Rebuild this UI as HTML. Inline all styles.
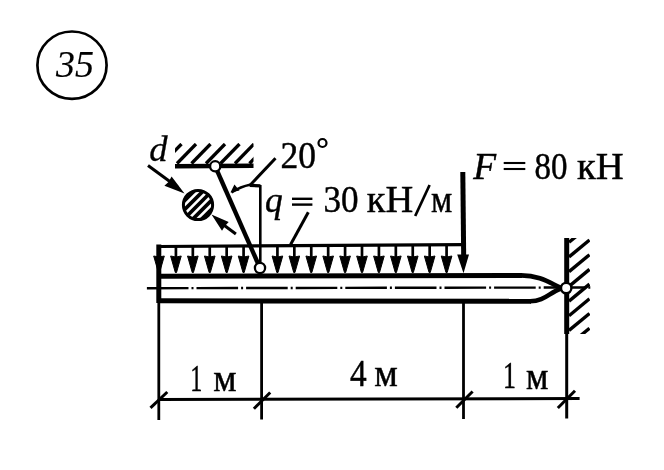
<!DOCTYPE html>
<html><head><meta charset="utf-8"><style>
html,body{margin:0;padding:0;background:#fff;width:664px;height:470px;overflow:hidden}
svg{display:block;will-change:transform}
text{font-family:"Liberation Serif",serif;fill:#000;stroke:#000;stroke-width:0.45px}
</style></head><body>
<svg width="664" height="470" viewBox="0 0 664 470">
<rect width="664" height="470" fill="#fff"/>
<defs>
<clipPath id="cc"><rect x="175" y="143" width="78.5" height="24"/></clipPath>
<clipPath id="cw"><rect x="568" y="238" width="22" height="96"/></clipPath>
<clipPath id="cs"><circle cx="198" cy="205" r="14.5"/></clipPath>
</defs>
<ellipse cx="72" cy="65.2" rx="34.6" ry="33.7" fill="none" stroke="#000" stroke-width="2.7"/>
<g stroke="#000" fill="#000">
<g clip-path="url(#cc)"><line x1="162.50" y1="163.50" x2="181.50" y2="144.00" stroke-width="3.3" />
<line x1="177.00" y1="163.50" x2="196.00" y2="144.00" stroke-width="3.3" />
<line x1="191.50" y1="163.50" x2="210.50" y2="144.00" stroke-width="3.3" />
<line x1="206.00" y1="163.50" x2="225.00" y2="144.00" stroke-width="3.3" />
<line x1="220.50" y1="163.50" x2="239.50" y2="144.00" stroke-width="3.3" />
<line x1="235.00" y1="163.50" x2="254.00" y2="144.00" stroke-width="3.3" />
<line x1="249.50" y1="163.50" x2="268.50" y2="144.00" stroke-width="3.3" /></g>
<line x1="175.00" y1="166.20" x2="253.50" y2="165.80" stroke-width="4.6" />
<line x1="215.20" y1="166.30" x2="260.00" y2="268.00" stroke-width="4.4" />
<line x1="260.30" y1="185.00" x2="260.30" y2="268.00" stroke-width="2.6" />
<line x1="275.50" y1="158.30" x2="249.80" y2="185.50" stroke-width="3" />
<line x1="249.80" y1="185.50" x2="260.30" y2="186.00" stroke-width="3" />
<line x1="148.00" y1="165.50" x2="178.00" y2="187.50" stroke-width="3" />
<path d="M184.5 193.5 L164.4 185.7 L168.5 182 L171.6 176.6 Z" stroke="none"/>
<line x1="235.90" y1="234.00" x2="219.00" y2="221.50" stroke-width="3" />
<path d="M211.5 214.4 L228.7 222 L225 226 L222 230.7 Z" stroke="none"/>
<g clip-path="url(#cs)"><line x1="155.73" y1="202.73" x2="195.73" y2="162.73" stroke-width="3.7" />
<line x1="160.18" y1="207.18" x2="200.18" y2="167.18" stroke-width="3.7" />
<line x1="164.64" y1="211.64" x2="204.64" y2="171.64" stroke-width="3.7" />
<line x1="169.09" y1="216.09" x2="209.09" y2="176.09" stroke-width="3.7" />
<line x1="173.55" y1="220.55" x2="213.55" y2="180.55" stroke-width="3.7" />
<line x1="178.00" y1="225.00" x2="218.00" y2="185.00" stroke-width="3.7" />
<line x1="182.45" y1="229.45" x2="222.45" y2="189.45" stroke-width="3.7" />
<line x1="186.91" y1="233.91" x2="226.91" y2="193.91" stroke-width="3.7" />
<line x1="191.36" y1="238.36" x2="231.36" y2="198.36" stroke-width="3.7" />
<line x1="195.82" y1="242.82" x2="235.82" y2="202.82" stroke-width="3.7" />
<line x1="200.27" y1="247.27" x2="240.27" y2="207.27" stroke-width="3.7" /></g>
<line x1="292.00" y1="198.80" x2="312.40" y2="198.80" stroke-width="2.4" />
<line x1="292.00" y1="204.60" x2="312.40" y2="204.60" stroke-width="2.4" />
<line x1="503.70" y1="163.00" x2="525.30" y2="163.00" stroke-width="2.1" />
<line x1="503.70" y1="169.00" x2="525.30" y2="169.00" stroke-width="2.1" />
<line x1="308.30" y1="212.20" x2="290.60" y2="244.50" stroke-width="3" />
<line x1="415.20" y1="216.00" x2="429.60" y2="185.00" stroke-width="2.7" />
<line x1="159.00" y1="246.50" x2="463.50" y2="244.70" stroke-width="3.2" />
<path d="M153.70 256 Q159.00 258 164.30 256 L159.60 272.5 L158.40 272.5 Z"/>
<line x1="175.92" y1="246.40" x2="175.92" y2="262.00" stroke-width="2.7" />
<path d="M170.62 256 Q175.92 258 181.22 256 L176.52 272.5 L175.32 272.5 Z"/>
<line x1="192.83" y1="246.30" x2="192.83" y2="262.00" stroke-width="2.7" />
<path d="M187.53 256 Q192.83 258 198.13 256 L193.43 272.5 L192.23 272.5 Z"/>
<line x1="209.75" y1="246.20" x2="209.75" y2="262.00" stroke-width="2.7" />
<path d="M204.45 256 Q209.75 258 215.05 256 L210.35 272.5 L209.15 272.5 Z"/>
<line x1="226.67" y1="246.10" x2="226.67" y2="262.00" stroke-width="2.7" />
<path d="M221.37 256 Q226.67 258 231.97 256 L227.27 272.5 L226.07 272.5 Z"/>
<line x1="243.58" y1="246.00" x2="243.58" y2="262.00" stroke-width="2.7" />
<path d="M238.28 256 Q243.58 258 248.88 256 L244.18 272.5 L242.98 272.5 Z"/>
<line x1="277.42" y1="245.80" x2="277.42" y2="262.00" stroke-width="2.7" />
<path d="M272.12 256 Q277.42 258 282.72 256 L278.02 272.5 L276.82 272.5 Z"/>
<line x1="294.33" y1="245.70" x2="294.33" y2="262.00" stroke-width="2.7" />
<path d="M289.03 256 Q294.33 258 299.63 256 L294.93 272.5 L293.73 272.5 Z"/>
<line x1="311.25" y1="245.60" x2="311.25" y2="262.00" stroke-width="2.7" />
<path d="M305.95 256 Q311.25 258 316.55 256 L311.85 272.5 L310.65 272.5 Z"/>
<line x1="328.17" y1="245.50" x2="328.17" y2="262.00" stroke-width="2.7" />
<path d="M322.87 256 Q328.17 258 333.47 256 L328.77 272.5 L327.57 272.5 Z"/>
<line x1="345.08" y1="245.40" x2="345.08" y2="262.00" stroke-width="2.7" />
<path d="M339.78 256 Q345.08 258 350.38 256 L345.68 272.5 L344.48 272.5 Z"/>
<line x1="362.00" y1="245.30" x2="362.00" y2="262.00" stroke-width="2.7" />
<path d="M356.70 256 Q362.00 258 367.30 256 L362.60 272.5 L361.40 272.5 Z"/>
<line x1="378.92" y1="245.20" x2="378.92" y2="262.00" stroke-width="2.7" />
<path d="M373.62 256 Q378.92 258 384.22 256 L379.52 272.5 L378.32 272.5 Z"/>
<line x1="395.83" y1="245.10" x2="395.83" y2="262.00" stroke-width="2.7" />
<path d="M390.53 256 Q395.83 258 401.13 256 L396.43 272.5 L395.23 272.5 Z"/>
<line x1="412.75" y1="245.00" x2="412.75" y2="262.00" stroke-width="2.7" />
<path d="M407.45 256 Q412.75 258 418.05 256 L413.35 272.5 L412.15 272.5 Z"/>
<line x1="429.67" y1="244.90" x2="429.67" y2="262.00" stroke-width="2.7" />
<path d="M424.37 256 Q429.67 258 434.97 256 L430.27 272.5 L429.07 272.5 Z"/>
<line x1="446.58" y1="244.80" x2="446.58" y2="262.00" stroke-width="2.7" />
<path d="M441.28 256 Q446.58 258 451.88 256 L447.18 272.5 L445.98 272.5 Z"/>
<line x1="462.80" y1="172.00" x2="463.70" y2="258.00" stroke-width="5" />
<path d="M457.2 254.5 L469 254.5 L463.5 273.3 Z" stroke="none"/>
<line x1="159.00" y1="276.20" x2="522.00" y2="275.40" stroke-width="5" />
<path d="M521 275.4 C 540 275.4, 550 283, 561 287.8" fill="none" stroke-width="4.6"/>
<line x1="159.00" y1="300.80" x2="531.00" y2="301.20" stroke-width="5" />
<path d="M530 301.2 C 545 301.2, 549 292.5, 561 288.8" fill="none" stroke-width="4.6"/>
<line x1="146.90" y1="288.20" x2="591.00" y2="287.50" stroke-width="2.4" stroke-dasharray="41.6 3 2 3"/>
<line x1="158.80" y1="244.50" x2="158.80" y2="303.00" stroke-width="5" />
<line x1="158.80" y1="303.00" x2="158.80" y2="420.00" stroke-width="2.8" />
<line x1="261.60" y1="303.00" x2="261.60" y2="419.50" stroke-width="2.8" />
<line x1="463.50" y1="303.00" x2="463.50" y2="419.00" stroke-width="2.8" />
<line x1="566.70" y1="238.00" x2="566.70" y2="334.00" stroke-width="5" />
<line x1="566.70" y1="333.00" x2="566.70" y2="418.50" stroke-width="3" />
<g clip-path="url(#cw)"><line x1="569.00" y1="242.30" x2="589.50" y2="225.30" stroke-width="3.4" />
<line x1="569.00" y1="257.00" x2="589.50" y2="240.00" stroke-width="3.4" />
<line x1="569.00" y1="271.70" x2="589.50" y2="254.70" stroke-width="3.4" />
<line x1="569.00" y1="286.40" x2="589.50" y2="269.40" stroke-width="3.4" />
<line x1="569.00" y1="301.10" x2="589.50" y2="284.10" stroke-width="3.4" />
<line x1="569.00" y1="315.80" x2="589.50" y2="298.80" stroke-width="3.4" />
<line x1="569.00" y1="330.50" x2="589.50" y2="313.50" stroke-width="3.4" />
<line x1="569.00" y1="345.20" x2="589.50" y2="328.20" stroke-width="3.4" />
<line x1="569.00" y1="359.90" x2="589.50" y2="342.90" stroke-width="3.4" /></g>
<line x1="159.00" y1="399.60" x2="579.60" y2="398.50" stroke-width="3" />
<line x1="150.50" y1="407.80" x2="167.30" y2="392.00" stroke-width="3" />
<line x1="253.90" y1="408.70" x2="270.20" y2="392.50" stroke-width="3" />
<line x1="456.30" y1="407.80" x2="472.60" y2="391.50" stroke-width="3" />
<line x1="557.80" y1="408.00" x2="575.00" y2="390.70" stroke-width="3" />
<circle cx="215.2" cy="166.3" r="5.1" fill="#fff" stroke-width="2.3"/>
<circle cx="260" cy="268" r="5.1" fill="#fff" stroke-width="2.3"/>
<circle cx="566.2" cy="288.1" r="5.2" fill="#fff" stroke-width="2.4"/>
<circle cx="198" cy="205" r="14.6" fill="none" stroke-width="3"/>
<path d="M231.5 192.5 Q 241 186.5 250 184.8 L 260.3 185.8" fill="none" stroke="#000" stroke-width="2.6"/>
<path d="M230.5 192.5 L234.4 184.5 L239.5 190.5 Z" stroke="none"/>
<circle cx="322.5" cy="143" r="4" fill="none" stroke-width="2.2"/>
</g>
<text transform="translate(56.00 76.80) scale(0.984 1)" font-size="38.5" font-style="italic" style="stroke-width:0.15px">35</text>
<text transform="translate(149.15 160.80) scale(1.047 1)" font-size="35" font-style="italic" style="stroke-width:0.3px">d</text>
<text transform="translate(280.45 168.30) scale(0.946 1)" font-size="37.5" font-style="normal" style="stroke-width:0.45px">20</text>
<text transform="translate(265.02 211.50) scale(0.981 1)" font-size="36" font-style="italic" style="stroke-width:0.45px">q</text>
<text transform="translate(323.58 212.00) scale(0.911 1)" font-size="38.5" font-style="normal" style="stroke-width:0.45px">30</text>
<text transform="translate(366.80 212.20) scale(0.998 1)" font-size="38.5" font-style="normal" style="stroke-width:0.45px">кН</text>
<text transform="translate(430.93 212.20) scale(0.874 1)" font-size="38.5" font-style="normal" style="stroke-width:0.45px">м</text>
<text transform="translate(473.20 179.40) scale(1.009 1)" font-size="37" font-style="italic" style="stroke-width:0.45px">F</text>
<text transform="translate(534.51 179.20) scale(0.891 1)" font-size="37" font-style="normal" style="stroke-width:0.45px">80</text>
<text transform="translate(577.00 178.90) scale(1.045 1)" font-size="37" font-style="normal" style="stroke-width:0.45px">кН</text>
<text transform="translate(190.17 391.00) scale(0.643 1)" font-size="37.5" font-style="normal" style="stroke-width:0.45px">1</text>
<text transform="translate(213.32 390.80) scale(0.982 1)" font-size="37.5" font-style="normal" style="stroke-width:0.45px">м</text>
<text transform="translate(350.10 385.80) scale(0.900 1)" font-size="37" font-style="normal" style="stroke-width:0.45px">4</text>
<text transform="translate(374.30 386.00) scale(1.005 1)" font-size="37" font-style="normal" style="stroke-width:0.45px">м</text>
<text transform="translate(502.90 388.00) scale(0.700 1)" font-size="37" font-style="normal" style="stroke-width:0.45px">1</text>
<text transform="translate(525.94 388.60) scale(0.959 1)" font-size="37" font-style="normal" style="stroke-width:0.45px">м</text>
</svg>
</body></html>
